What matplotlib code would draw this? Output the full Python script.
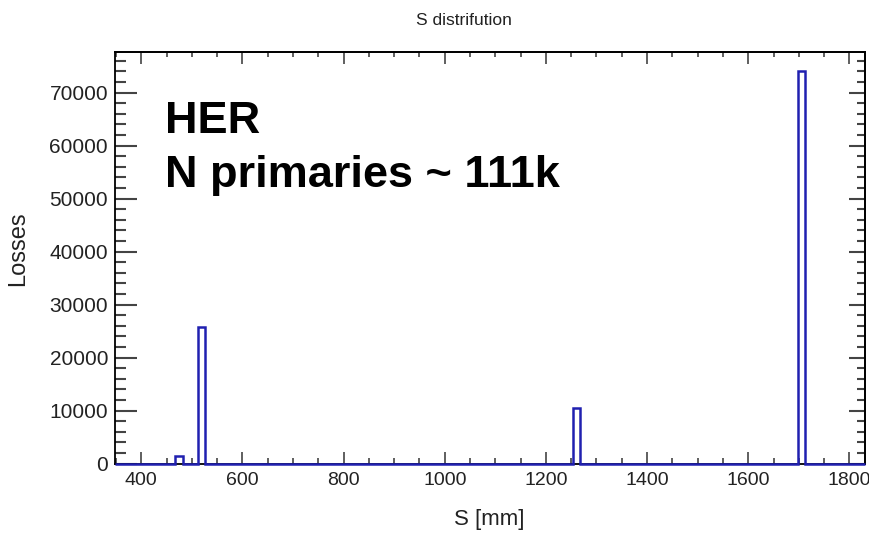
"""S distribution of HER losses, ROOT-style histogram."""

import numpy as np
import matplotlib
matplotlib.use("Agg")
import matplotlib.pyplot as plt
from matplotlib.ticker import MultipleLocator

# histogram binning
s_min = 348.0
s_max = 1831.0
n_bins = 100

# non-empty bins and their contents
peak_bins = [8, 11, 61, 91]
peak_losses = [1400, 25800, 10600, 74000]

title = "S distrifution"
x_label = "S [mm]"
y_label = "Losses"
note_lines = ["HER", "N primaries ~ 111k"]

edges = np.linspace(s_min, s_max, n_bins + 1)
counts = np.zeros(n_bins)
counts[peak_bins] = peak_losses

sans = ["Liberation Sans", "DejaVu Sans"]
hist_color = "#2020b0"
tick_col = "#444444"

fig = plt.figure(figsize=(8.7, 5.33), dpi=100)
ax = fig.add_axes([0.1322, 0.130, 0.8621, 0.773])

ax.stairs(counts, edges, color=hist_color, lw=1.8, baseline=0, clip_on=False, zorder=3)

ax.set_xlim(s_min, s_max)
ax.set_ylim(0, 1.05 * max(peak_losses))

ax.xaxis.set_major_locator(MultipleLocator(200))
ax.xaxis.set_minor_locator(MultipleLocator(50))
ax.yaxis.set_major_locator(MultipleLocator(10000))
ax.yaxis.set_minor_locator(MultipleLocator(2000))

for sp in ax.spines.values():
    sp.set_linewidth(1.3)

ax.tick_params(axis="x", which="major", direction="in", length=8.5, width=1.2,
               color=tick_col, pad=6, labelsize=14, top=False)
ax.tick_params(axis="x", which="minor", direction="in", length=4, width=1.2,
               color=tick_col, top=False)
ax.tick_params(axis="y", which="major", direction="in", length=15.5, width=1.5,
               color=tick_col, pad=5, labelsize=15, right=False)
ax.tick_params(axis="y", which="minor", direction="in", length=8, width=1.5,
               color=tick_col, right=False)
for lab in ax.get_xticklabels() + ax.get_yticklabels():
    lab.set_family(sans)
    lab.set_color("#222222")

# top and right axes carry ticks only
top = ax.secondary_xaxis("top")
top.xaxis.set_major_locator(MultipleLocator(200))
top.xaxis.set_minor_locator(MultipleLocator(50))
top.tick_params(which="major", direction="in", length=8.5, width=1.2, color=tick_col, labeltop=False)
top.tick_params(which="minor", direction="in", length=3.5, width=1.2, color=tick_col)
top.spines["top"].set_linewidth(1.3)

right = ax.secondary_yaxis("right")
right.yaxis.set_major_locator(MultipleLocator(10000))
right.yaxis.set_minor_locator(MultipleLocator(2000))
right.tick_params(which="major", direction="in", length=11.5, width=1.5, color=tick_col, labelright=False)
right.tick_params(which="minor", direction="in", length=6, width=1.5, color=tick_col)
right.spines["right"].set_linewidth(1.3)

fig.text(464 / 870, 1 - 25 / 533, title, ha="center", va="baseline",
         fontsize=12.5, family=sans, color="#222222")
fig.text(489 / 870, 1 - 525 / 533, x_label, ha="center", va="baseline",
         fontsize=16, family=sans, color="#222222")
fig.text(18 / 870, 1 - 249 / 533, y_label, ha="center", va="center",
         rotation=90, fontsize=17, family=sans, color="#222222")

ax.text(0.0667, 0.802, note_lines[0], transform=ax.transAxes, ha="left", va="baseline",
        fontsize=32.5, fontweight="bold", family=sans)
ax.text(0.0667, 0.672, note_lines[1], transform=ax.transAxes, ha="left", va="baseline",
        fontsize=32.5, fontweight="bold", family=sans)

fig.savefig("out.png", dpi=100)
